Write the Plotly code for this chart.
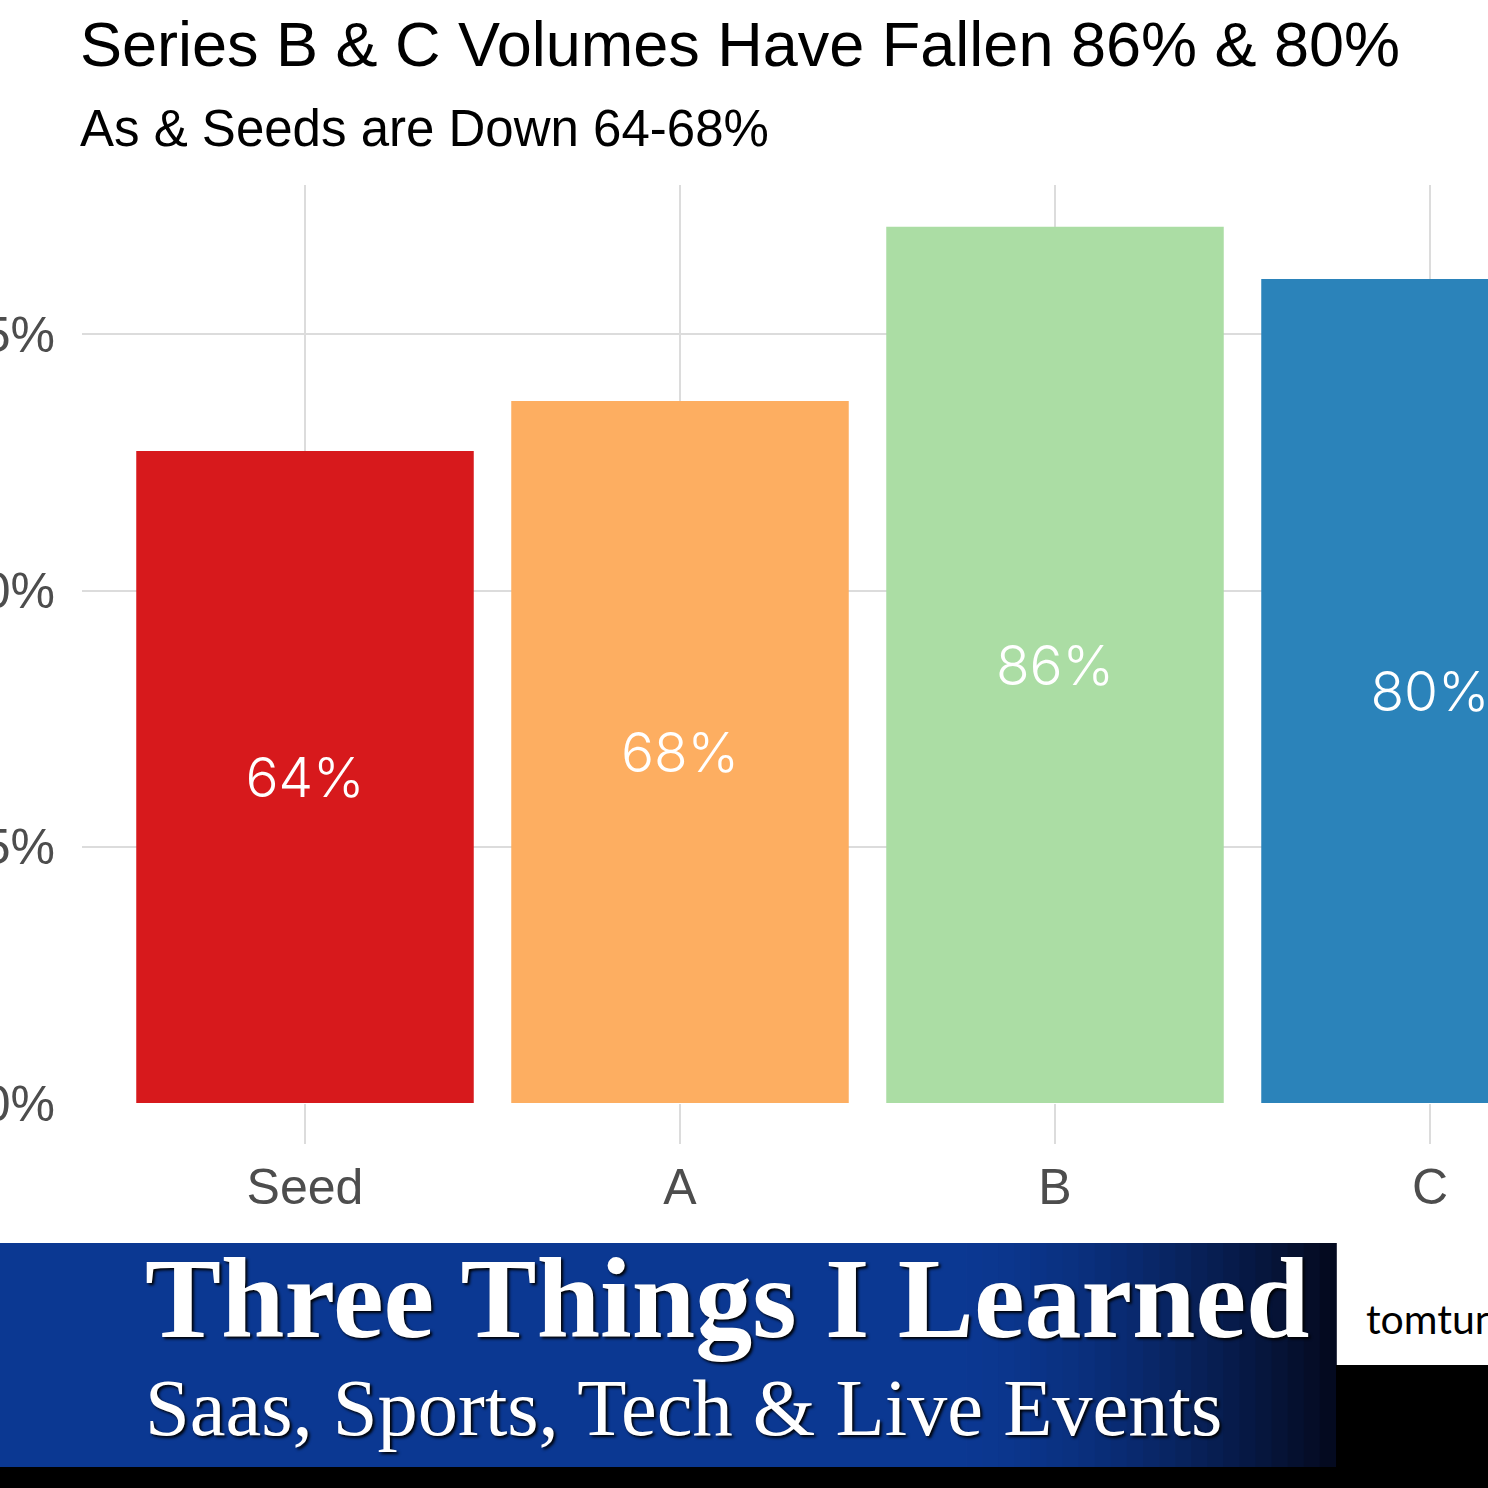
import plotly.graph_objects as go

# ---- data ----
categories = ["Seed", "A", "B", "C"]
declines = [63.6, 68.5, 85.5, 80.4]
bar_labels = ["64%", "68%", "86%", "80%"]
bar_colors = ["#d7191c", "#fdae61", "#abdda4", "#2b83ba"]
y_ticks = [0, 25, 50, 75]
y_tick_labels = ["0%", "25%", "50%", "75%"]

title_text = "Series B & C Volumes Have Fallen 86% & 80%"
subtitle_text = "As & Seeds are Down 64-68%"
banner_line1 = "Three Things I Learned"
banner_line2 = "Saas, Sports, Tech & Live Events"
site_text = "tomtunguz.com"

W, H = 1488, 1488
# plot area in page pixels
PL, PR_EDGE, PT, PB = 82, 1488, 185, 1103


def px_x(px):
    return (px - PL) / (PR_EDGE - PL)


def px_y(py):
    return (PB - py) / (PB - PT)


fig = go.Figure()
fig.add_trace(go.Bar(
    x=categories,
    y=declines,
    width=0.9,
    marker=dict(color=bar_colors, line=dict(width=0)),
    text=bar_labels,
    textposition="inside",
    insidetextanchor="middle",
    textangle=0,
    textfont=dict(family="Inter, Liberation Sans, sans-serif", size=55, color="white", weight=300),
    cliponaxis=True,
    hoverinfo="skip",
))

shapes = []


def lerp(a, b, t):
    return int(round(a + (b - a) * t))


base = (11, 56, 146)
dark = (4, 8, 28)
grad_start = 950
shapes.append(dict(type="rect", xref="paper", yref="paper",
                   x0=px_x(-20), x1=px_x(grad_start), y0=px_y(1467), y1=px_y(1243),
                   fillcolor="rgb(%d,%d,%d)" % base, line=dict(width=0), layer="above"))
n = 24
step = (1336 - grad_start) / n
for i in range(n):
    t = ((i + 0.5) / n) ** 1.6
    c = tuple(lerp(base[k], dark[k], t) for k in range(3))
    shapes.append(dict(type="rect", xref="paper", yref="paper",
                       x0=px_x(grad_start + i * step), x1=px_x(grad_start + (i + 1) * step + 0.8),
                       y0=px_y(1467), y1=px_y(1243),
                       fillcolor="rgb(%d,%d,%d)" % c, line=dict(width=0), layer="above"))
shapes.append(dict(type="rect", xref="paper", yref="paper",
                   x0=px_x(-20), x1=px_x(1500), y0=px_y(1500), y1=px_y(1467),
                   fillcolor="black", line=dict(width=0), layer="above"))
shapes.append(dict(type="rect", xref="paper", yref="paper",
                   x0=px_x(1336), x1=px_x(1500), y0=px_y(1500), y1=px_y(1365),
                   fillcolor="black", line=dict(width=0), layer="above"))

annotations = [
    dict(text=title_text, x=px_x(78), y=px_y(44), xref="paper", yref="paper",
         xanchor="left", yanchor="middle", showarrow=False,
         font=dict(family="Liberation Sans, Arial, sans-serif", size=63, color="black")),
    dict(text=subtitle_text, x=px_x(78), y=px_y(128), xref="paper", yref="paper",
         xanchor="left", yanchor="middle", showarrow=False,
         font=dict(family="Liberation Sans, Arial, sans-serif", size=51, color="black")),
    dict(text="<b>" + banner_line1 + "</b>", x=px_x(143), y=px_y(1298), xref="paper", yref="paper",
         xanchor="left", yanchor="middle", showarrow=False,
         font=dict(family="Liberation Serif, DejaVu Serif, serif", size=114, color="white",
                   shadow="2px 2px 3px #000")),
    dict(text=banner_line2, x=px_x(143), y=px_y(1407), xref="paper", yref="paper",
         xanchor="left", yanchor="middle", showarrow=False,
         font=dict(family="Liberation Serif, DejaVu Serif, serif", size=80.5, color="white",
                   shadow="2px 2px 3px #000")),
    dict(text=site_text, x=px_x(1364), y=px_y(1318), xref="paper", yref="paper",
         xanchor="left", yanchor="middle", showarrow=False,
         font=dict(family="Lato, Liberation Sans, sans-serif", size=41, color="black")),
]

fig.update_layout(
    width=W, height=H,
    margin=dict(l=PL, r=W - PR_EDGE, t=PT, b=H - PB, pad=0, autoexpand=False),
    paper_bgcolor="white",
    plot_bgcolor="white",
    showlegend=False,
    shapes=shapes,
    annotations=annotations,
    font=dict(family="Liberation Sans, Arial, sans-serif"),
)
fig.update_xaxes(
    type="category",
    range=[-(305 - PL) / 375, 3 + (PR_EDGE - 1430) / 375],
    showgrid=True, gridcolor="#dcdcdc", gridwidth=2,
    ticks="outside", ticklen=40, tickwidth=2, tickcolor="#dcdcdc",
    tickfont=dict(size=50, color="#4d4d4d"),
    showline=False, zeroline=False, automargin=False,
)
fig.update_yaxes(
    range=[0, (PB - PT) / 10.25],
    tickvals=y_ticks, ticktext=y_tick_labels,
    showgrid=True, gridcolor="#dcdcdc", gridwidth=2,
    ticks="", ticklabelstandoff=26,
    tickfont=dict(size=50, color="#4d4d4d"),
    showline=False, zeroline=False, automargin=False,
)

fig.write_html(
    "out.html",
    config={"displayModeBar": False},
    post_script="document.body.style.margin='0';document.body.style.overflow='hidden';",
)
